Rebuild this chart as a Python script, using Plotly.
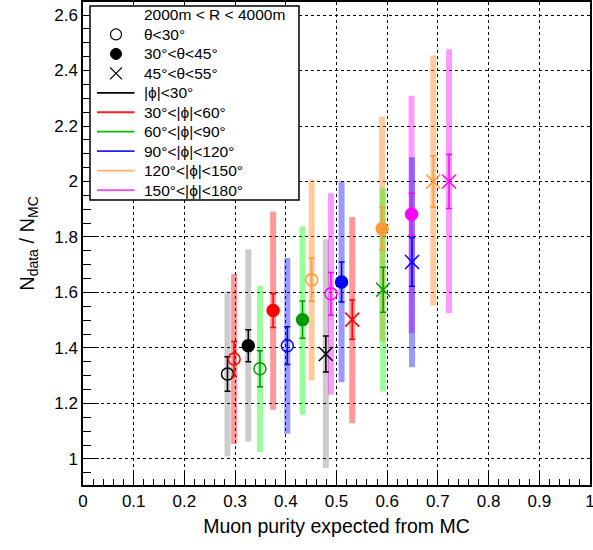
import plotly.graph_objects as go

# ---------------- data ----------------
phi_labels = ["|ϕ|<30°", "30°<|ϕ|<60°", "60°<|ϕ|<90°",
              "90°<|ϕ|<120°", "120°<|ϕ|<150°", "150°<|ϕ|<180°"]
theta_labels = ["θ<30°", "30°<θ<45°", "45°<θ<55°"]
region_label = "2000m < R < 4000m"

# theta < 30 (open circles), order: phi bins
purity_t1 = [0.285, 0.298, 0.349, 0.403, 0.451, 0.489]
ratio_t1 = [1.306, 1.360, 1.325, 1.408, 1.646, 1.595]
stat_t1 = [0.062, 0.063, 0.065, 0.068, 0.078, 0.077]
syslo_t1 = [1.009, 1.054, 1.025, 1.091, 1.283, 1.231]
syshi_t1 = [1.604, 1.667, 1.624, 1.724, 2.006, 1.958]

# 30 < theta < 45 (filled circles)
purity_t2 = [0.326, 0.375, 0.433, 0.510, 0.590, 0.648]
ratio_t2 = [1.408, 1.535, 1.502, 1.638, 1.830, 1.882]
stat_t2 = [0.058, 0.061, 0.067, 0.072, 0.076, 0.076]
syslo_t2 = [1.063, 1.177, 1.159, 1.276, 1.423, 1.454]
syshi_t2 = [1.756, 1.892, 1.838, 2.000, 2.234, 2.309]

# 45 < theta < 55 (crosses)
purity_t3 = [0.479, 0.531, 0.592, 0.649, 0.691, 0.722]
ratio_t3 = [1.378, 1.502, 1.610, 1.710, 2.000, 2.000]
stat_t3 = [0.065, 0.071, 0.081, 0.088, 0.093, 0.097]
syslo_t3 = [0.967, 1.129, 1.243, 1.330, 1.553, 1.526]
syshi_t3 = [1.792, 1.872, 1.976, 2.087, 2.454, 2.477]

# ---------------- styles ----------------
marker_colors = ["#000000", "#ff0000", "#009a00", "#0000ff", "#ff9933", "#ff00ff"]
band_colors = ["rgba(0,0,0,0.2)", "rgba(255,0,0,0.4)", "rgba(0,255,0,0.4)",
               "rgba(0,0,255,0.4)", "rgba(255,140,40,0.45)", "rgba(255,0,255,0.4)"]
legend_line_colors = ["#000000", "#ff2020", "#00c000", "#2020ff", "#ffb070", "#ff40ff"]
symbols = ["circle-open", "circle", "x-thin-open"]
sizes = [12, 12, 14]

groups = [
    (purity_t1, ratio_t1, stat_t1, syslo_t1, syshi_t1),
    (purity_t2, ratio_t2, stat_t2, syslo_t2, syshi_t2),
    (purity_t3, ratio_t3, stat_t3, syslo_t3, syshi_t3),
]

W, H = 593, 550
ML, MR, MT, MB = 83, 3, 2, 65
PW, PH = W - ML - MR, H - MT - MB


def px2x(p):
    return (p - ML) / PW


def px2y(p):
    return (H - MB - p) / PH


fig = go.Figure()

# systematic bands (drawn first)
for g, (px, ry, st, lo, hi) in enumerate(groups):
    for i in range(len(px)):
        fig.add_trace(go.Scatter(
            x=[px[i]], y=[ry[i]], mode="markers",
            marker=dict(size=1, opacity=0),
            error_y=dict(type="data", symmetric=False,
                         array=[hi[i] - ry[i]], arrayminus=[ry[i] - lo[i]],
                         color=band_colors[i], thickness=6, width=0),
            showlegend=False, hoverinfo="skip"))

# points with statistical errors
for g, (px, ry, st, lo, hi) in enumerate(groups):
    for i in range(len(px)):
        col = marker_colors[i]
        fig.add_trace(go.Scatter(
            x=[px[i]], y=[ry[i]], mode="markers",
            marker=dict(symbol=symbols[g], size=sizes[g], color=col,
                        line=dict(color=col, width=1.5)),
            error_y=dict(type="data", array=[st[i]], color=col,
                         thickness=1.5, width=3),
            showlegend=False))

# ---------------- hand-made legend box (ROOT TLegend look) ----------------
shapes = []
annotations = []
LX0, LX1, LY0, LY1 = 90, 299, 6, 200
shapes.append(dict(type="rect", xref="paper", yref="paper", layer="above",
                   x0=px2x(LX0), x1=px2x(LX1), y0=px2y(LY1), y1=px2y(LY0),
                   fillcolor="white", line=dict(color="black", width=1.5)))
row_y = [15 + 19.45 * k for k in range(10)]
text_x = 141.5
sym_x = 116
legend_texts = [region_label] + theta_labels + phi_labels
for k, t in enumerate(legend_texts):
    annotations.append(dict(xref="paper", yref="paper", x=px2x(text_x), y=px2y(row_y[k]),
                            text=t, showarrow=False, xanchor="left", yanchor="middle",
                            font=dict(size=15.5, color="black")))
r = 5.5
# open circle
shapes.append(dict(type="circle", xref="paper", yref="paper", layer="above",
                   x0=px2x(sym_x - r), x1=px2x(sym_x + r),
                   y0=px2y(row_y[1] + r), y1=px2y(row_y[1] - r),
                   fillcolor="white", line=dict(color="black", width=1.2)))
# filled circle
shapes.append(dict(type="circle", xref="paper", yref="paper", layer="above",
                   x0=px2x(sym_x - r), x1=px2x(sym_x + r),
                   y0=px2y(row_y[2] + r), y1=px2y(row_y[2] - r),
                   fillcolor="black", line=dict(color="black", width=1)))
# cross
c = 6
for s in (1, -1):
    shapes.append(dict(type="line", xref="paper", yref="paper", layer="above",
                       x0=px2x(sym_x - c), x1=px2x(sym_x + c),
                       y0=px2y(row_y[3] - s * c), y1=px2y(row_y[3] + s * c),
                       line=dict(color="black", width=1.2)))
# coloured lines
for i in range(6):
    yy = px2y(row_y[4 + i])
    shapes.append(dict(type="line", xref="paper", yref="paper", layer="above",
                       x0=px2x(97), x1=px2x(134.5), y0=yy, y1=yy,
                       line=dict(color=legend_line_colors[i], width=1.8)))

axis_common = dict(
    showline=True, linecolor="black", linewidth=1.5, mirror=True,
    showgrid=True, gridcolor="black", griddash="dot", gridwidth=1,
    zeroline=False, ticks="inside", tickcolor="black", tickwidth=1,
    tickfont=dict(size=17, color="black"), automargin=False,
    ticklabeloverflow="allow",
)

fig.update_xaxes(**axis_common, range=[0, 1], tick0=0, dtick=0.1, ticklen=12,
                 minor=dict(dtick=0.02, ticks="inside", ticklen=6, tickcolor="black",
                            showgrid=False),
                 title=dict(text="Muon purity expected from MC", font=dict(size=19.5),
                            standoff=9))
fig.update_yaxes(**axis_common, range=[0.906, 2.647], tick0=0, dtick=0.2, ticklen=16,
                 minor=dict(dtick=0.05, ticks="inside", ticklen=8, tickcolor="black",
                            showgrid=False),
                 title=dict(text="N<sub>data</sub> / N<sub>MC</sub>", font=dict(size=20),
                            standoff=14))

fig.update_layout(
    width=W, height=H,
    margin=dict(l=ML, r=MR, t=MT, b=MB),
    plot_bgcolor="white", paper_bgcolor="white",
    font=dict(family="Liberation Sans, Arial, Helvetica, sans-serif", color="black"),
    showlegend=False,
    shapes=shapes, annotations=annotations,
)

fig.write_html("out.html", config={"displayModeBar": False},
               post_script="document.body.style.margin='0';document.body.style.overflow='hidden';")
